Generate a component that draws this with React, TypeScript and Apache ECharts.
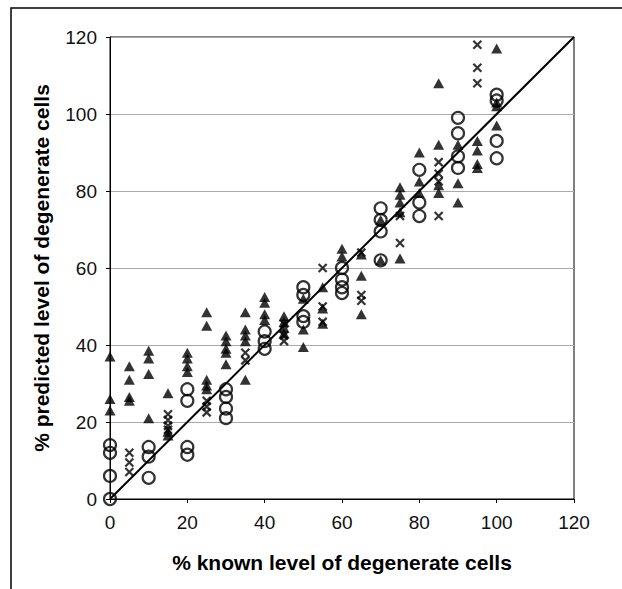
import React, { useEffect, useRef } from "react";
import * as echarts from "echarts";

const xTicks = [0, 20, 40, 60, 80, 100, 120];
const yTicks = [0, 20, 40, 60, 80, 100, 120];

// open circles: [known %, predicted %]
const circlePoints: [number, number][] = [
  [0, 0], [0, 6], [0, 12], [0, 14],
  [10, 5.5], [10, 11], [10, 13.5],
  [20, 11.5], [20, 13.5], [20, 25.5], [20, 28.5],
  [30, 21], [30, 23.5], [30, 26.5], [30, 28.5],
  [40, 39], [40, 41], [40, 43.5],
  [50, 46], [50, 47.5], [50, 53], [50, 55],
  [60, 53.5], [60, 55], [60, 57], [60, 60],
  [70, 62], [70, 69.5], [70, 72.5], [70, 75.5],
  [80, 73.5], [80, 77], [80, 85.5],
  [90, 86], [90, 89], [90, 95], [90, 99],
  [100, 88.5], [100, 93], [100, 103.5], [100, 105],
];

// crosses
const crossPoints: [number, number][] = [
  [5, 7], [5, 9.5], [5, 12],
  [15, 18], [15, 19], [15, 20.5], [15, 22],
  [25, 22.5], [25, 24], [25, 25.5],
  [35, 36], [35, 38],
  [45, 41], [45, 42.5], [45, 45.5],
  [55, 46], [55, 50], [55, 60],
  [65, 51.5], [65, 53], [65, 64],
  [75, 66.5], [75, 73.5],
  [85, 73.5], [85, 82.5], [85, 84.5], [85, 87.5],
  [95, 108], [95, 112], [95, 118],
];

// filled triangles
const trianglePoints: [number, number][] = [
  [0, 23], [0, 26], [0, 37],
  [5, 25.5], [5, 26.5], [5, 31], [5, 34.5],
  [10, 21], [10, 32.5], [10, 36.5], [10, 38.5],
  [15, 16.5], [15, 17.5], [15, 27.5],
  [20, 33], [20, 34.5], [20, 36.5], [20, 38],
  [25, 28.5], [25, 29.5], [25, 31], [25, 45], [25, 48.5],
  [30, 35], [30, 38], [30, 39], [30, 41], [30, 42.5],
  [35, 31], [35, 41], [35, 42.5], [35, 44], [35, 48.5],
  [40, 46.5], [40, 48], [40, 51], [40, 52.5],
  [45, 43], [45, 44.5], [45, 46], [45, 47.5],
  [50, 39.5], [50, 44], [50, 52],
  [55, 45.5], [55, 49.5], [55, 55],
  [60, 63], [60, 65],
  [65, 48], [65, 58], [65, 63.5],
  [70, 62], [70, 72.5],
  [75, 62.5], [75, 74.5], [75, 77], [75, 79], [75, 81],
  [80, 79.5], [80, 82.5], [80, 90],
  [85, 79.5], [85, 81.5], [85, 92], [85, 108],
  [90, 77], [90, 82], [90, 92],
  [95, 86], [95, 87], [95, 90.5], [95, 93],
  [100, 97], [100, 102], [100, 103], [100, 117],
];

const identityLine: [number, number][] = [[0, 0], [120, 120]];

const xTitle = "% known level of degenerate cells";
const yTitle = "% predicted level of degenerate cells";

export default function App() {
  const ref = useRef<HTMLDivElement>(null);
  useEffect(() => {
    if (!ref.current) return;
    const chart = echarts.init(ref.current, null, { renderer: "svg" });
    const font = "'Liberation Sans', Arial, sans-serif";
    chart.setOption({
      animation: false,
      backgroundColor: "#fff",
      textStyle: { fontFamily: font },
      graphic: [
        {
          type: "rect",
          shape: { x: 11, y: 8, width: 700, height: 700 },
          style: { fill: "none", stroke: "#000", lineWidth: 1.5 },
          silent: true,
        },
      ],
      grid: {
        left: 110,
        top: 37,
        width: 464,
        height: 462,
        show: true,
        borderColor: "#000",
        borderWidth: 1,
        backgroundColor: "transparent",
      },
      xAxis: {
        type: "value",
        min: xTicks[0],
        max: xTicks[xTicks.length - 1],
        interval: 20,
        name: xTitle,
        nameLocation: "middle",
        nameGap: 53,
        nameTextStyle: { fontSize: 21, fontWeight: "bold", color: "#000", fontFamily: font },
        axisLine: { show: true, lineStyle: { color: "#000", width: 1 } },
        axisTick: { show: true, inside: false, length: 4, lineStyle: { color: "#000" } },
        axisLabel: { fontSize: 19, color: "#111", margin: 14, fontFamily: font },
        splitLine: { show: false },
      },
      yAxis: {
        type: "value",
        min: yTicks[0],
        max: yTicks[yTicks.length - 1],
        interval: 20,
        name: yTitle,
        nameLocation: "middle",
        nameGap: 58,
        nameTextStyle: { fontSize: 21, fontWeight: "bold", color: "#000", fontFamily: font },
        axisLine: { show: true, lineStyle: { color: "#000", width: 1 } },
        axisTick: { show: true, inside: false, length: 4, lineStyle: { color: "#000" } },
        axisLabel: { fontSize: 19, color: "#111", margin: 13, fontFamily: font },
        splitLine: { show: true, lineStyle: { color: "#aaa", width: 1 } },
      },
      series: [
        {
          type: "line",
          data: identityLine,
          symbol: "none",
          lineStyle: { color: "#000", width: 2 },
          z: 1,
        },
        {
          type: "scatter",
          data: circlePoints,
          symbol: "circle",
          symbolSize: 12,
          itemStyle: { color: "transparent", borderColor: "#000", borderWidth: 2.2 },
          z: 2,
        },
        {
          type: "scatter",
          data: crossPoints,
          symbol: "path://M0,0L10,10M10,0L0,10",
          symbolSize: 8,
          itemStyle: { color: "none", borderColor: "#000", borderWidth: 2.2 },
          z: 3,
        },
        {
          type: "scatter",
          data: trianglePoints,
          symbol: "triangle",
          symbolSize: [11, 10],
          itemStyle: { color: "#000" },
          z: 4,
        },
      ],
    });
    return () => chart.dispose();
  }, []);
  return (
    <div
      ref={ref}
      style={{ position: "absolute", left: 0, top: 0, width: 622, height: 589 }}
    />
  );
}
